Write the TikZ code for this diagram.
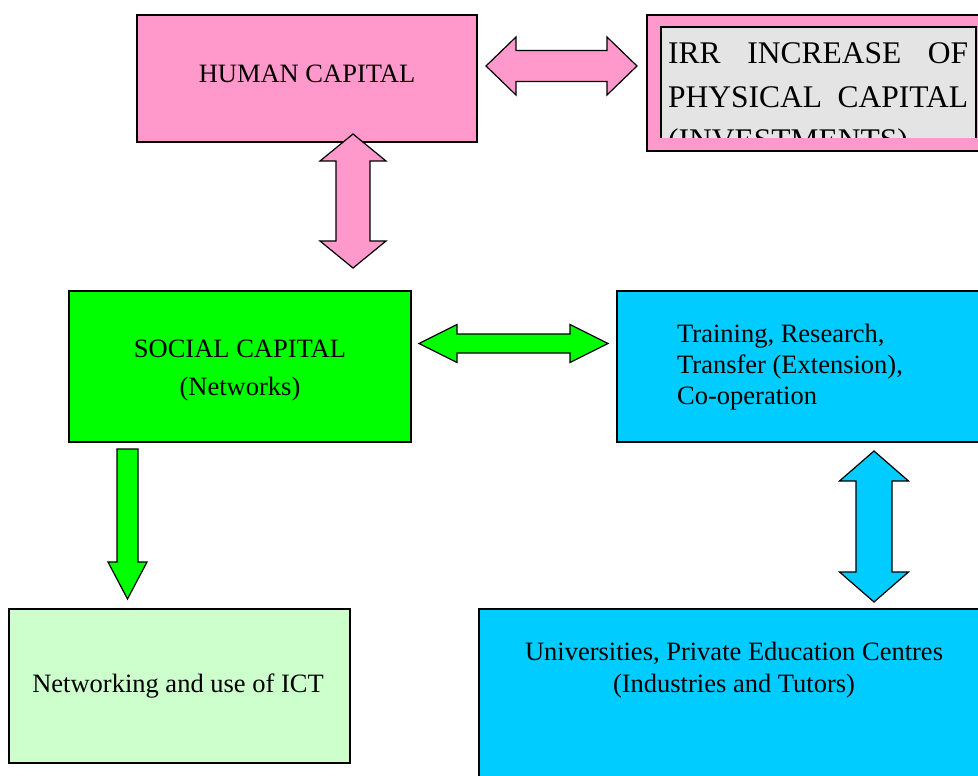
\documentclass[tikz,border=0pt]{standalone}
\usepackage{fontspec}
\setmainfont{Liberation Serif}
\usetikzlibrary{calc}

\definecolor{hpink}{HTML}{FF99CC}
\definecolor{sgreen}{HTML}{00FF00}
\definecolor{lgreen}{HTML}{CCFFCC}
\definecolor{tcyan}{HTML}{00CCFF}
\definecolor{igray}{HTML}{E4E4E4}

% horizontal double block arrow: style, left tip, right tip, shaft half, head half, head length
\newcommand{\hfat}[6]{%
  \draw[#1] (#2) -- ($(#2)+(#6,-#5)$) -- ($(#2)+(#6,-#4)$) -- ($(#3)+(-#6,-#4)$)
    -- ($(#3)+(-#6,-#5)$) -- (#3) -- ($(#3)+(-#6,#5)$) -- ($(#3)+(-#6,#4)$)
    -- ($(#2)+(#6,#4)$) -- ($(#2)+(#6,#5)$) -- cycle;}
% vertical double block arrow: style, top tip, bottom tip, shaft half, head half, head length
\newcommand{\vfat}[6]{%
  \draw[#1] (#2) -- ($(#2)+(#5,#6)$) -- ($(#2)+(#4,#6)$) -- ($(#3)+(#4,-#6)$)
    -- ($(#3)+(#5,-#6)$) -- (#3) -- ($(#3)+(-#5,-#6)$) -- ($(#3)+(-#4,-#6)$)
    -- ($(#2)+(-#4,#6)$) -- ($(#2)+(-#5,#6)$) -- cycle;}
% single block arrow pointing down: style, shaft top, tip, shaft half, head half, head length
\newcommand{\dfat}[6]{%
  \draw[#1] ($(#2)+(-#4,0)$) -- ($(#2)+(#4,0)$) -- ($(#3)+(#4,-#6)$) -- ($(#3)+(#5,-#6)$)
    -- (#3) -- ($(#3)+(-#5,-#6)$) -- ($(#3)+(-#4,-#6)$) -- cycle;}

\tikzset{
  box/.style={draw=black,line width=1.3pt,rectangle,inner sep=0pt},
  blk/.style={draw=black,line width=1.2pt,line join=miter},
  txt/.style={inner sep=0pt,anchor=base,font=\fontsize{26.5}{31}\selectfont}
}

\begin{document}
\begin{tikzpicture}[x=1pt,y=-1pt]
\useasboundingbox (0,0) rectangle (978,776);
\clip (0,0) rectangle (978,776);
\fill[white] (0,0) rectangle (978,776);

% boxes
\node[box,fill=hpink,minimum width=340pt,minimum height=127pt] (hc) at (307,78.5){};
\node[box,fill=hpink,minimum width=343pt,minimum height=136pt] (irr) at (818.5,83){};
\node[box,fill=igray,minimum width=315pt,minimum height=122pt] (irrin) at (818.5,88){};
\node[box,fill=sgreen,minimum width=342pt,minimum height=151pt] (sc) at (240,366.5){};
\node[box,fill=tcyan,minimum width=373pt,minimum height=151pt] (tr) at (803.5,366.5){};
\node[box,fill=lgreen,minimum width=341pt,minimum height=154pt] (ict) at (179.5,686){};
\node[box,fill=tcyan,minimum width=511pt,minimum height=181pt] (uni) at (734.5,699.5){};

% text of the grey box, cut off by the pink frame
\begin{scope}
\clip (662,28) rectangle (978,138);
\node[inner sep=0pt,anchor=base west,font=\fontsize{31.5}{43}\selectfont] (irrt1) at (668,64){\makebox[300pt][s]{IRR INCREASE OF}};
\node[inner sep=0pt,anchor=base west,font=\fontsize{31.5}{43}\selectfont] (irrt2) at (668,107){\makebox[300pt][s]{PHYSICAL CAPITAL}};
\node[inner sep=0pt,anchor=base west,font=\fontsize{31.5}{43}\selectfont] (irrt3) at (668,150){(INVESTMENTS)};
\end{scope}
\fill[hpink] (648,138) rectangle (978,150.3);

% labels
\node[txt] (hct) at (307,83){HUMAN CAPITAL};
\node[inner sep=0pt,anchor=base,font=\fontsize{3}{3}\selectfont] (dot) at (474,120){.};
\node[txt] (sct1) at (240,357){SOCIAL CAPITAL};
\node[txt] (sct2) at (240,395){(Networks)};
\node[txt,anchor=base west] (trt1) at (677,342){Training, Research,};
\node[txt,anchor=base west] (trt2) at (677,373){Transfer (Extension),};
\node[txt,anchor=base west] (trt3) at (677,404){Co-operation};
\node[txt] (ictt) at (178,692){Networking and use of ICT};
\node[txt] (unit1) at (734,660){Universities, Private Education Centres};
\node[txt] (unit2) at (734,692){(Industries and Tutors)};

% arrow ends
\coordinate (hcL) at (486,66);
\coordinate (hcR) at (637,66);
\coordinate (hcT) at (353,134);
\coordinate (hcB) at (353,268);
\coordinate (scL) at (419,343.5);
\coordinate (scR) at (608,343.5);
\coordinate (trT) at (874,451);
\coordinate (trB) at (874,602);
\coordinate (scT) at (127.5,449);
\coordinate (scB) at (127.5,599);

% block arrows
\hfat{blk,fill=hpink}{hcL}{hcR}{15.5}{29}{30}
\vfat{blk,fill=hpink}{hcT}{hcB}{17}{33}{27}
\hfat{blk,fill=sgreen}{scL}{scR}{9.5}{19}{38}
\vfat{blk,fill=tcyan}{trT}{trB}{18}{34.5}{30}
\dfat{blk,fill=sgreen}{scT}{scB}{10.5}{19.5}{37}

\end{tikzpicture}
\end{document}
